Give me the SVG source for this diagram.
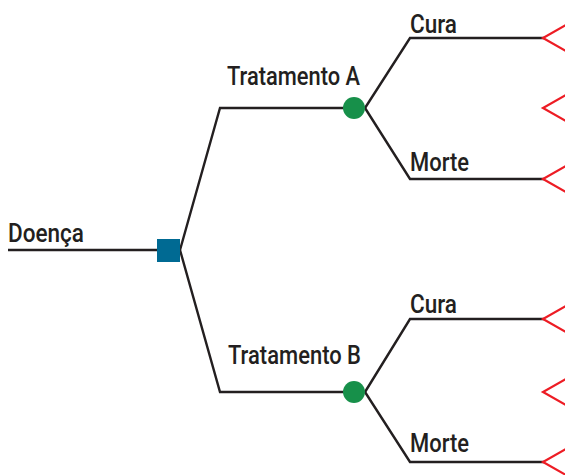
<svg xmlns="http://www.w3.org/2000/svg" width="565" height="475" viewBox="0 0 565 475">
<style>
.ln{fill:none;stroke:#231f20;stroke-width:2.4;stroke-linejoin:miter}
.ch{fill:none;stroke:#ed1c24;stroke-width:2.2}
.t{font-family:Roboto,"Liberation Sans",Arial,sans-serif;font-weight:500;font-size:26px;fill:#231f20}
</style>
<rect width="565" height="475" fill="#fff"/>
<g id="connectors">
<path class="ln" d="M8,250 H158"/>
<path class="ln" d="M180,250 L220,108 H345"/>
<path class="ln" d="M180,250 L220,392 H345"/>
<path class="ln" d="M365,108 L410,38 H545"/>
<path class="ln" d="M365,108 L410,179 H545"/>
<path class="ln" d="M365,392 L410,319 H545"/>
<path class="ln" d="M365,392 L410,462 H545"/>
</g>
<g id="doenca"><text class="t" x="8" y="242" textLength="76" lengthAdjust="spacingAndGlyphs">Doença</text></g>
<g id="decision"><rect x="157" y="239" width="23" height="23" fill="#006a93"/></g>
<g id="chanceA"><circle cx="354" cy="108" r="11" fill="#17904a"/><text class="t" x="227" y="85" textLength="133" lengthAdjust="spacingAndGlyphs">Tratamento A</text></g>
<g id="chanceB"><circle cx="354" cy="392" r="11" fill="#17904a"/><text class="t" x="228" y="364" textLength="133" lengthAdjust="spacingAndGlyphs">Tratamento B</text></g>
<g id="curaA"><text class="t" x="410" y="33" textLength="47" lengthAdjust="spacingAndGlyphs">Cura</text><path class="ch" d="M566,25 L543,38 L566,51"/></g>
<g id="endA"><path class="ch" d="M566,95 L543,108 L566,121"/></g>
<g id="morteA"><text class="t" x="410" y="171" textLength="59" lengthAdjust="spacingAndGlyphs">Morte</text><path class="ch" d="M566,166 L543,179 L566,192"/></g>
<g id="curaB"><text class="t" x="410" y="313" textLength="47" lengthAdjust="spacingAndGlyphs">Cura</text><path class="ch" d="M566,306 L543,319 L566,332"/></g>
<g id="endB"><path class="ch" d="M566,379 L543,392 L566,405"/></g>
<g id="morteB"><text class="t" x="410" y="452" textLength="59" lengthAdjust="spacingAndGlyphs">Morte</text><path class="ch" d="M566,449 L543,462 L566,475"/></g>
</svg>
